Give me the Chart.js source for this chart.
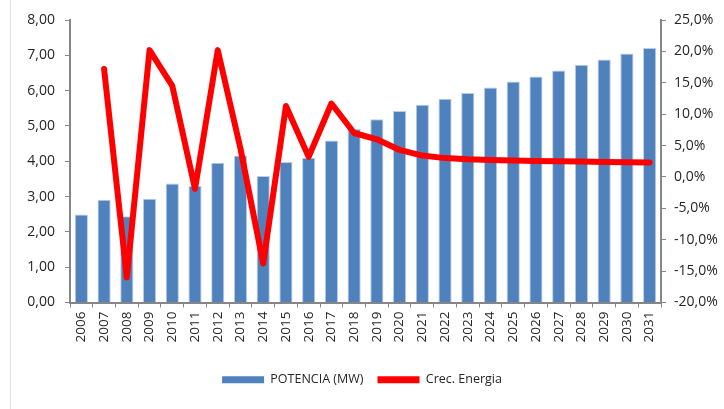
<!DOCTYPE html>
<html>
<head>
<meta charset="utf-8">
<script src="https://cdn.jsdelivr.net/npm/chart.js@4"></script>
<style>
    html, body { margin: 0; padding: 0; background: #fff; }
    #wrap { position: relative; width: 724px; height: 409px; }
    #edge { position: absolute; left: 10px; top: 0; width: 0; height: 409px; border-left: 1px solid #e3e3e3; }
</style>
</head>
<body>
<div id="wrap">
    <div id="edge"></div>
    <canvas id="chart" width="724" height="409"></canvas>
</div>
<script>
var years = ['2006', '2007', '2008', '2009', '2010', '2011', '2012', '2013', '2014', '2015', '2016', '2017', '2018',
    '2019', '2020', '2021', '2022', '2023', '2024', '2025', '2026', '2027', '2028', '2029', '2030', '2031'];

// POTENCIA (MW)
var potencia = [2.49, 2.91, 2.44, 2.94, 3.37, 3.30, 3.96, 4.16, 3.58, 3.98, 4.10, 4.59, 4.91,
    5.19, 5.42, 5.60, 5.77, 5.93, 6.09, 6.26, 6.40, 6.57, 6.73, 6.88, 7.05, 7.21];

// Crec. Energia (%)
var crecEnergia = [null, 17.2, -16.0, 20.2, 14.5, -1.9, 20.2, 4.5, -13.8, 11.3, 3.2, 11.7, 7.0,
    6.0, 4.3, 3.4, 3.0, 2.8, 2.7, 2.6, 2.55, 2.5, 2.45, 2.4, 2.35, 2.3];

var fontFamily = "'Open Sans', 'Liberation Sans', sans-serif";
Chart.defaults.font.family = fontFamily;
Chart.defaults.font.size = 14;
Chart.defaults.color = '#262626';

function comma(v, digits) {
    return v.toFixed(digits).replace('.', ',');
}

new Chart(document.getElementById('chart'), {
    type: 'bar',
    data: {
        labels: years,
        datasets: [
            {
                type: 'line',
                label: 'Crec. Energia',
                data: crecEnergia,
                yAxisID: 'y1',
                borderColor: '#ff0000',
                backgroundColor: '#ff0000',
                borderWidth: 6,
                borderJoinStyle: 'round',
                borderCapStyle: 'round',
                pointRadius: 0,
                tension: 0,
                order: 0
            },
            {
                label: 'POTENCIA (MW)',
                data: potencia,
                yAxisID: 'y',
                backgroundColor: '#4f81bd',
                borderColor: '#b9cde5',
                borderWidth: 1,
                barPercentage: 0.58,
                categoryPercentage: 1,
                order: 1
            }
        ]
    },
    options: {
        responsive: false,
        animation: false,
        layout: { padding: { top: 20, left: 0, right: 0, bottom: 13 } },
        plugins: {
            tooltip: { enabled: false },
            legend: {
                position: 'bottom',
                labels: {
                    font: { size: 12.5 },
                    boxWidth: 42,
                    boxHeight: 7,
                    padding: 14,
                    generateLabels: function (chart) {
                        var ds = chart.data.datasets;
                        return [1, 0].map(function (i) {
                            return {
                                text: ds[i].label,
                                fillStyle: ds[i].backgroundColor,
                                strokeStyle: ds[i].backgroundColor,
                                lineWidth: 0,
                                datasetIndex: i,
                                fontColor: '#262626'
                            };
                        });
                    }
                }
            }
        },
        scales: {
            x: {
                grid: { drawOnChartArea: false, color: '#868686', tickLength: 5, offset: true },
                border: { color: '#868686', width: 2 },
                ticks: { minRotation: 90, maxRotation: 90, autoSkip: false, font: { size: 13.5 }, padding: 4 },
                afterFit: function (scale) { scale.height = 57; }
            },
            y: {
                position: 'left',
                min: 0,
                max: 8,
                grid: { drawOnChartArea: false, color: '#868686', tickLength: 5 },
                border: { color: '#868686', width: 2 },
                ticks: { stepSize: 1, padding: 10, callback: function (v) { return comma(v, 2); } },
                afterFit: function (scale) { scale.width = 70; }
            },
            y1: {
                position: 'right',
                min: -20,
                max: 25,
                grid: { drawOnChartArea: false, color: '#868686', tickLength: 5 },
                border: { color: '#868686', width: 2 },
                ticks: { stepSize: 5, padding: 8, callback: function (v) { return comma(v, 1) + '%'; } },
                afterFit: function (scale) { scale.width = 63; }
            }
        }
    }
});
</script>
</body>
</html>
